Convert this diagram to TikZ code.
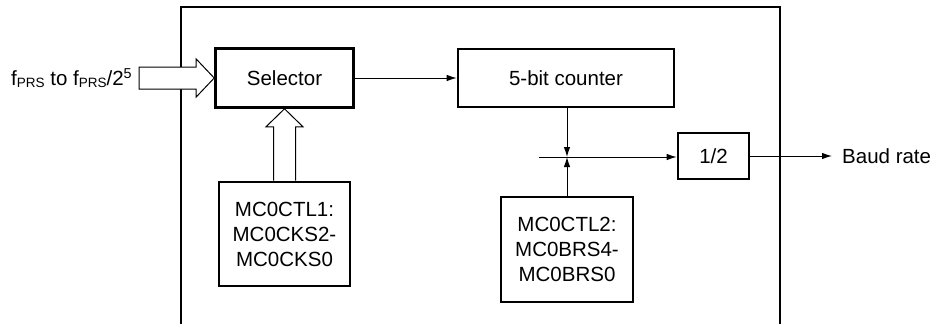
\documentclass[tikz,border=0pt]{standalone}
\usepackage{fontspec}
\setmainfont{Liberation Sans}
\usetikzlibrary{arrows.meta,calc}
\tikzset{
  blk/.style={draw,line width=2.6pt,fill=white,align=center,inner sep=0pt,font=\fontsize{20.5}{25}\selectfont},
  conn/.style={line width=1pt,-{Latex[length=10pt,width=6.5pt]}},
  hollow/.style={draw,line width=1pt,fill=white,line join=miter},
  frame/.style={line width=2.6pt},
  lbl/.style={font=\fontsize{20.5}{25}\selectfont,inner sep=0pt}
}
\newcommand{\smallprs}{{\fontsize{13.5}{13.5}\selectfont\raisebox{-1.5pt}{PRS}}}
\begin{document}
\begin{tikzpicture}[x=1pt,y=-1pt]
\useasboundingbox (0,0) rectangle (935,324);
% outer frame (open at the bottom)
\draw[frame] (181,330) -- (181,7) -- (780,7) -- (780,330);
% blocks
\node[blk,minimum width=138pt,minimum height=59pt] (sel) at (284.5,78) {Selector};
\node[blk,minimum width=216pt,minimum height=58pt] (cnt) at (566,78) {5-bit counter};
\node[blk,minimum width=71pt,minimum height=46pt] (half) at (713.5,156) {1/2};
\node[blk,minimum width=131pt,minimum height=104pt] (ctl1) at (284.5,234) {MC0CTL1:\\MC0CKS2-\\MC0CKS0};
\node[blk,minimum width=132pt,minimum height=105pt] (ctl2) at (567,249.5) {MC0CTL2:\\MC0BRS4-\\MC0BRS0};
% input label and hollow arrow
\node[lbl,anchor=west] (inlbl) at (11,78) {f\smallprs{} to f\smallprs/2\textsuperscript{5}};
\coordinate (inbase) at (139,78);
\draw[hollow] (inbase) ++(0,-11) -- ($(sel.west)+(-18,-11)$) -- ($(sel.west)+(-18,-19)$) -- (sel.west)
  -- ($(sel.west)+(-18,19)$) -- ($(sel.west)+(-18,11)$) -- ($(inbase)+(0,11)$) -- cycle;
% hollow arrow from MC0CTL1 up to selector
\draw[hollow] ($(ctl1.north)+(-11,0)$) -- ($(sel.south)+(-11,18)$) -- ($(sel.south)+(-18.5,18)$) -- (sel.south)
  -- ($(sel.south)+(18.5,18)$) -- ($(sel.south)+(11,18)$) -- ($(ctl1.north)+(11,0)$);
% selector to counter
\draw[conn] (sel.east) -- (cnt.west);
% junction
\coordinate (jn) at (567,157);
\coordinate (jstart) at (539,157);
\draw[conn] (cnt.south -| jn) -- (jn);
\draw[conn] (ctl2.north) -- (jn);
\draw[conn] (jstart) -- (jstart -| half.west);
% output
\coordinate (outend) at (832,156);
\draw[conn] (half.east) -- (outend);
\node[lbl,anchor=west] (baud) at (842,156) {Baud rate};
\end{tikzpicture}
\end{document}
